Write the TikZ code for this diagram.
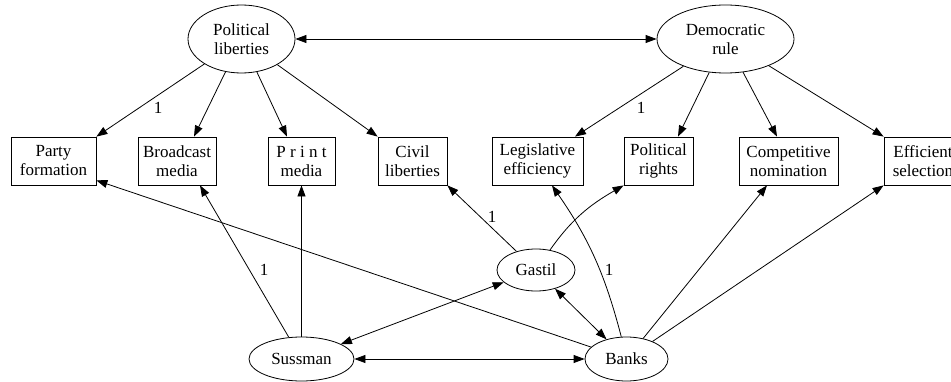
\documentclass[tikz,border=0pt]{standalone}
\usepackage{fontspec}
\setmainfont{Liberation Serif}
\usetikzlibrary{shapes.geometric}
\usetikzlibrary{arrows.meta}

\begin{document}
\begin{tikzpicture}[x=1pt,y=1pt,->,>={Triangle[length=11pt,width=8pt]},line width=0.8pt,
    font=\fontsize{17}{19}\selectfont,
    latent node/.style={ellipse,draw,inner sep=0pt,align=center},
    item node/.style={rectangle,draw,inner sep=0pt,minimum height=48pt,align=center},
    load label/.style={inner sep=0pt}]
  \useasboundingbox (0,0) rectangle (951,381);
  % latent variables
  \node[latent node,minimum width=107pt,minimum height=68pt] (pl) at (241.5,342) {Political\\liberties};
  \node[latent node,minimum width=137pt,minimum height=68pt] (dr) at (725.5,342) {Democratic\\rule};
  % indicators
  \node[item node,minimum width=85pt] (party) at (53.5,220) {Party\\formation};
  \node[item node,minimum width=78pt] (broad) at (177,220) {Broadcast\\media};
  \node[item node,minimum width=67pt] (print) at (301.5,220) {P r i n t\\media};
  \node[item node,minimum width=69pt] (civil) at (412.5,220) {Civil\\liberties};
  \node[item node,minimum width=91pt] (legis) at (537.5,220) {Legislative\\efficiency};
  \node[item node,minimum width=69pt] (polr) at (658.5,220) {Political\\rights};
  \node[item node,minimum width=99pt] (comp) at (788.5,220) {Competitive\\nomination};
  \node[item node,minimum width=78pt] (eff) at (923,220) {Efficient\\selection};
  % sources
  \node[latent node,minimum width=78pt,minimum height=42pt] (gastil) at (536,111) {Gastil};
  \node[latent node,minimum width=105pt,minimum height=44pt] (sussman) at (301.5,22) {Sussman};
  \node[latent node,minimum width=83pt,minimum height=44pt] (banks) at (626.5,22) {Banks};
  % loadings fixed to 1
  \node[load label] (l1) at (158,273) {1};
  \node[load label] (l2) at (641,273) {1};
  \node[load label] (l3) at (264,111) {1};
  \node[load label] (l4) at (492,164) {1};
  \node[load label] (l5) at (609,111) {1};

  \path[<->] (pl) edge (dr);
  \path (pl) edge (party.north east);
  \path (pl) edge ([xshift=17pt]broad.north);
  \path (pl) edge ([xshift=-14.5pt]print.north);
  \path (pl) edge (civil.north west);
  \path (dr) edge ([xshift=37.5pt]legis.north);
  \path (dr) edge ([xshift=19.5pt]polr.north);
  \path (dr) edge ([xshift=-11.5pt]comp.north);
  \path (dr) edge (eff.north west);

  \path (sussman) edge ([xshift=23pt]broad.south);
  \path (sussman) edge (print.south);
  \path[<->] (sussman) edge (gastil);
  \path[<->] (sussman) edge (banks);
  \path[<->] (gastil) edge (banks);
  \path (gastil) edge (civil.south east);
  \path (gastil) edge[out=55,in=210] (polr.south west);
  \path (banks) edge ([yshift=5pt]party.south east);
  \path (banks) edge[bend right=10] ([xshift=14.5pt]legis.south);
  \path (banks) edge ([xshift=-21.5pt]comp.south);
  \path (banks) edge (eff.south west);
\end{tikzpicture}
\end{document}
